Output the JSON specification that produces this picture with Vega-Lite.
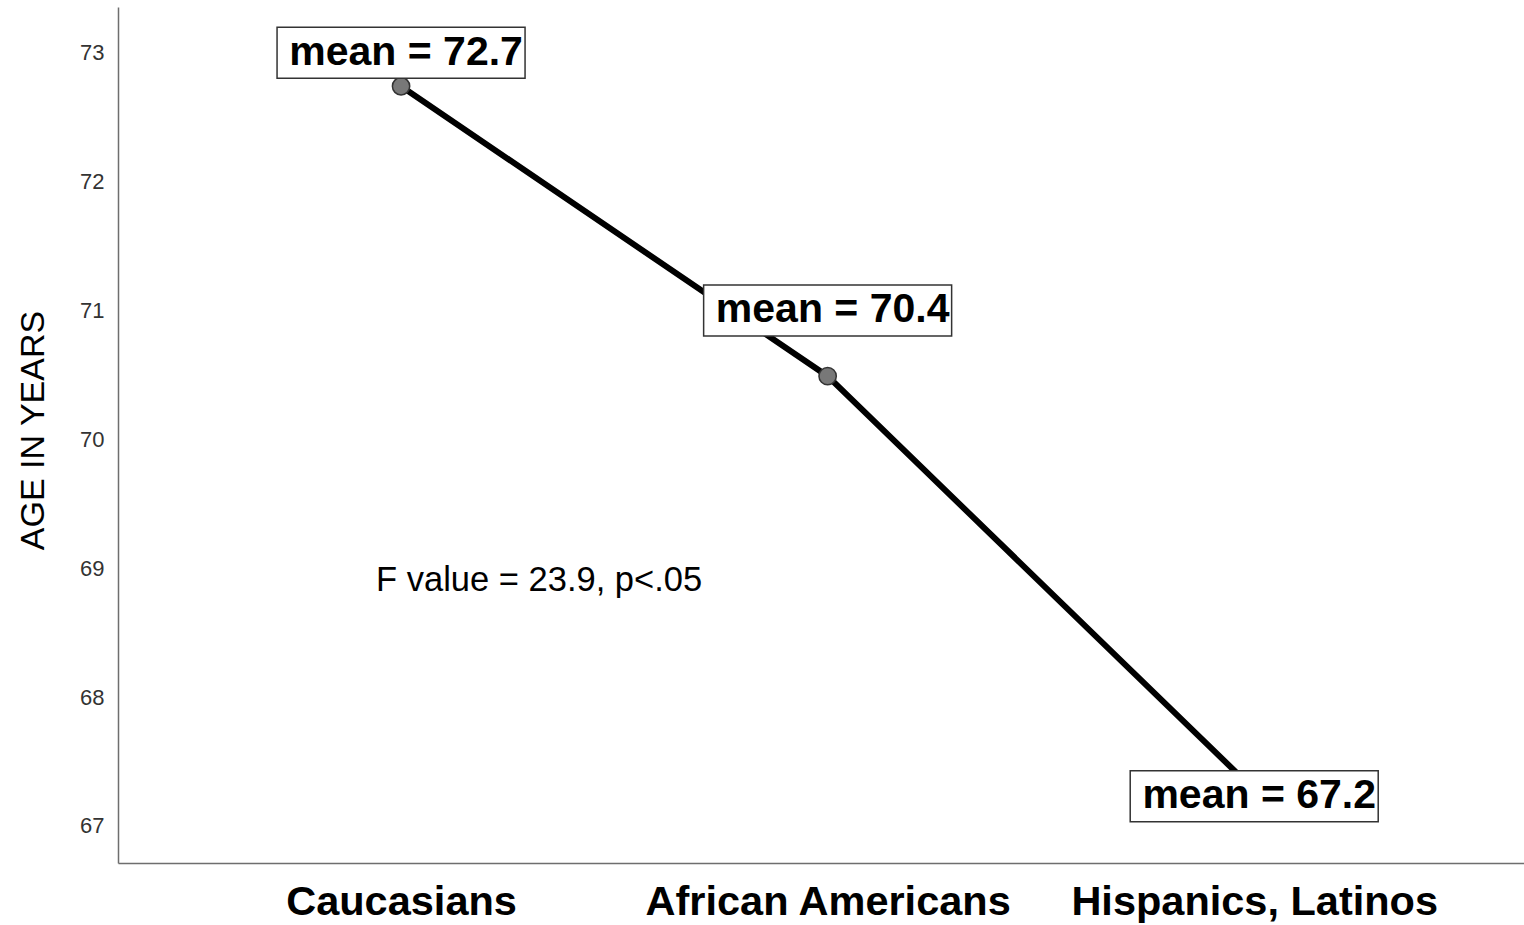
{
  "$schema": "https://vega.github.io/schema/vega-lite/v6.json",
  "autosize": "none",
  "width": 1406,
  "height": 856,
  "padding": {"left": 118, "top": 7, "right": 0, "bottom": 62},
  "background": "white",
  "config": {"view": {"stroke": null}, "font": "Liberation Sans"},
  "data": {
    "values": [
      {"group": "Caucasians", "mean": 72.74, "label": "mean = 72.7"},
      {"group": "African Americans", "mean": 70.49, "label": "mean = 70.4"},
      {"group": "Hispanics, Latinos", "mean": 67.28, "label": "mean = 67.2"}
    ]
  },
  "encoding": {
    "x": {
      "field": "group",
      "type": "nominal",
      "sort": null,
      "scale": {
        "type": "point",
        "domain": ["Caucasians", "African Americans", "Hispanics, Latinos"],
        "padding": 0.648,
        "align": 0.512
      },
      "axis": {
        "title": null,
        "domainColor": "#6e6e6e",
        "domainWidth": 1.5,
        "ticks": false,
        "tickSize": 0,
        "grid": false,
        "labelAngle": 0,
        "labelLimit": 0,
        "labelFont": "Liberation Sans",
        "labelFontSize": 41.5,
        "labelFontWeight": "bold",
        "labelColor": "#000000",
        "labelPadding": 18
      }
    },
    "y": {
      "field": "mean",
      "type": "quantitative",
      "scale": {"domain": [66.712, 73.355], "nice": false, "zero": false},
      "axis": {
        "title": "AGE IN YEARS",
        "titleFont": "Liberation Sans",
        "titleFontSize": 34,
        "titleFontWeight": "normal",
        "titleColor": "#000000",
        "titleAngle": -90,
        "titleX": -75,
        "titleY": 423,
        "titleAlign": "center",
        "titleBaseline": "alphabetic",
        "values": [67, 68, 69, 70, 71, 72, 73],
        "format": "d",
        "ticks": false,
        "tickSize": 0,
        "grid": false,
        "labelFont": "Liberation Sans",
        "labelFontSize": 22,
        "labelColor": "#333333",
        "labelPadding": 14,
        "domainColor": "#6e6e6e",
        "domainWidth": 1.5
      }
    }
  },
  "layer": [
    {"mark": {"type": "line", "color": "#000000", "strokeWidth": 6}},
    {"mark": {"type": "point", "shape": "circle", "filled": true, "fill": "#787878", "stroke": "#333333", "strokeWidth": 1.5, "size": 300, "opacity": 1}},
    {
      "transform": [{"filter": "datum.group === 'Caucasians'"}],
      "encoding": {"y": {"datum": 73.0}},
      "layer": [
        {"mark": {"type": "point", "shape": "M-1,-0.2056L1,-0.2056L1,0.2056L-1,0.2056Z", "size": 61504, "filled": true, "fill": "#ffffff", "stroke": "#333333", "strokeWidth": 1.5, "opacity": 1}},
        {"mark": {"type": "text", "font": "Liberation Sans", "fontWeight": "bold", "fontSize": 41, "dx": 5, "dy": 0, "baseline": "middle", "align": "center", "color": "#000000"}, "encoding": {"text": {"field": "label"}}}
      ]
    },
    {
      "transform": [{"filter": "datum.group === 'African Americans'"}],
      "encoding": {"y": {"datum": 71.0}},
      "layer": [
        {"mark": {"type": "point", "shape": "M-1,-0.2056L1,-0.2056L1,0.2056L-1,0.2056Z", "size": 61504, "filled": true, "fill": "#ffffff", "stroke": "#333333", "strokeWidth": 1.5, "opacity": 1}},
        {"mark": {"type": "text", "font": "Liberation Sans", "fontWeight": "bold", "fontSize": 41, "dx": 5, "dy": 0, "baseline": "middle", "align": "center", "color": "#000000"}, "encoding": {"text": {"field": "label"}}}
      ]
    },
    {
      "transform": [{"filter": "datum.group === 'Hispanics, Latinos'"}],
      "encoding": {"y": {"datum": 67.23}},
      "layer": [
        {"mark": {"type": "point", "shape": "M-1,-0.2056L1,-0.2056L1,0.2056L-1,0.2056Z", "size": 61504, "filled": true, "fill": "#ffffff", "stroke": "#333333", "strokeWidth": 1.5, "opacity": 1}},
        {"mark": {"type": "text", "font": "Liberation Sans", "fontWeight": "bold", "fontSize": 41, "dx": 5, "dy": 0, "baseline": "middle", "align": "center", "color": "#000000"}, "encoding": {"text": {"field": "label"}}}
      ]
    },
    {
      "transform": [{"filter": "datum.group === 'Caucasians'"}],
      "mark": {"type": "text", "align": "left", "baseline": "alphabetic", "font": "Liberation Sans", "fontSize": 34.5, "dx": -25, "color": "#000000", "text": "F value = 23.9, p<.05"},
      "encoding": {"y": {"datum": 68.82}}
    }
  ]
}
